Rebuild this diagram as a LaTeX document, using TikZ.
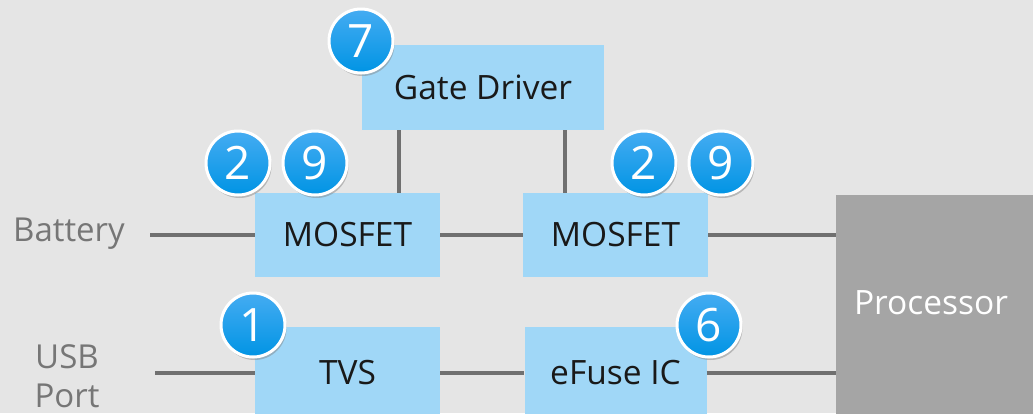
\documentclass[tikz,border=0pt]{standalone}
\usepackage{fontspec}
\setmainfont{Open Sans}
\usetikzlibrary{shadows}
\definecolor{bg}{HTML}{E5E5E5}
\definecolor{boxblue}{HTML}{A0D7F7}
\definecolor{wire}{HTML}{707070}
\definecolor{labelgray}{HTML}{767676}
\definecolor{procgray}{HTML}{A5A5A5}
\definecolor{badgetop}{HTML}{45ACF2}
\definecolor{badgebot}{HTML}{0094E4}
\tikzset{
  block/.style={rectangle, fill=boxblue, inner sep=0pt, font=\fontsize{33.5}{36}\selectfont, text=black!90},
  wireline/.style={draw=wire, line width=3.5pt},
  sidelabel/.style={font=\fontsize{33}{39}\selectfont, text=labelgray, align=center, inner sep=0pt},
  badge/.style={circle, minimum size=64pt, inner sep=0pt, draw=white, line width=3pt,
    top color=badgetop, bottom color=badgebot,
    drop shadow={opacity=0.45, shadow xshift=1.5pt, shadow yshift=-3pt},
    text=white, font=\fontsize{46}{46}\selectfont}
}
\begin{document}
\begin{tikzpicture}[x=1pt,y=-1pt]
\useasboundingbox (0,0) rectangle (1033,413);
\clip (0,0) rectangle (1033,413);
\fill[bg] (0,0) rectangle (1033,413);

% blocks
\node[block, minimum width=242pt, minimum height=85pt] (gd) at (483,87.5) {Gate Driver};
\node[block, minimum width=185pt, minimum height=84pt] (m1) at (347.5,235) {MOSFET};
\node[block, minimum width=185pt, minimum height=84pt] (m2) at (615.5,235) {MOSFET};
\node[block, minimum width=185pt, minimum height=92pt] (tvs) at (347.5,373) {TVS};
\node[block, minimum width=182pt, minimum height=92pt] (ef) at (615.5,373) {eFuse IC};
\node[rectangle, fill=procgray, minimum width=200pt, minimum height=230pt, inner sep=0pt] (proc) at (936,310) {};
\node[font=\fontsize{33.5}{36}\selectfont, text=white, inner sep=0pt] (proctext) at (931,303) {Processor};

% side labels
\node[sidelabel] (bat) at (69,234) {Battery};
\node[sidelabel] (usb) at (67,376) {USB\\Port};
\coordinate (batend) at (150,235);
\coordinate (usbend) at (155,373);

% wires
\coordinate (g1) at (399,0);
\coordinate (g2) at (565,0);
\draw[wireline] (gd.south -| g1) -- (m1.north -| g1);
\draw[wireline] (gd.south -| g2) -- (m2.north -| g2);
\draw[wireline] (batend) -- (m1.west);
\draw[wireline] (m1.east) -- (m2.west);
\draw[wireline] (m2.east) -- (m2.east -| proc.west);
\draw[wireline] (usbend) -- (tvs.west);
\draw[wireline] (tvs.east) -- (ef.west);
\draw[wireline] (ef.east) -- (ef.east -| proc.west);

% badges
\node[badge] (b7) at (361,41) {7};
\node[badge] (b2a) at (238,163) {2};
\node[badge] (b9a) at (315,163) {9};
\node[badge] (b2b) at (644,163) {2};
\node[badge] (b9b) at (721,163) {9};
\node[badge] (b1) at (253,325) {1};
\node[badge] (b6) at (709,325) {6};
\end{tikzpicture}
\end{document}
